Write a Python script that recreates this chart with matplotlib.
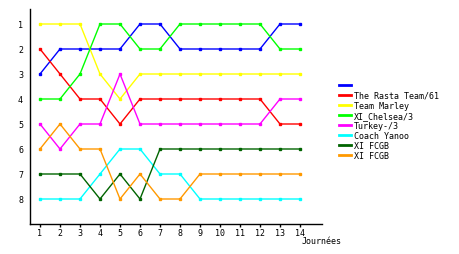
import matplotlib
matplotlib.use("Agg")
import matplotlib.pyplot as plt
from matplotlib.lines import Line2D

journees = list(range(1, 15))

teams = ["", "The Rasta Team/61", "Team Marley", "XI_Chelsea/3", "Turkey-/3",
         "Coach Yanoo", "XI FCGB", "XI FCGB"]
colors = ["#0000ff", "#ff0000", "#ffff00", "#00ff00", "#ff00ff",
          "#00ffff", "#006400", "#ff9900"]

blue = [3, 2, 2, 2, 2, 1, 1, 2, 2, 2, 2, 2, 1, 1]
red = [2, 3, 4, 4, 5, 4, 4, 4, 4, 4, 4, 4, 5, 5]
yellow = [1, 1, 1, 3, 4, 3, 3, 3, 3, 3, 3, 3, 3, 3]
green = [4, 4, 3, 1, 1, 2, 2, 1, 1, 1, 1, 1, 2, 2]
magenta = [5, 6, 5, 5, 3, 5, 5, 5, 5, 5, 5, 5, 4, 4]
cyan = [8, 8, 8, 7, 6, 6, 7, 7, 8, 8, 8, 8, 8, 8]
darkgreen = [7, 7, 7, 8, 7, 8, 6, 6, 6, 6, 6, 6, 6, 6]
orange = [6, 5, 6, 6, 8, 7, 8, 8, 7, 7, 7, 7, 7, 7]
series = [blue, red, yellow, green, magenta, cyan, darkgreen, orange]

plt.rcParams['font.family'] = 'DejaVu Sans Mono'
fig = plt.figure(figsize=(4.6, 2.55), dpi=100)
ax = fig.add_axes([30/460, 1 - 225/255, 292/460, 215/255])

for s, c in zip(series, colors):
    ax.plot(journees, s, color=c, lw=1.0, marker='s', ms=1.8, mec=c, mfc=c)

ax.set_xlim(0.5, 15.1)
ax.set_ylim(9, 0.4)
ax.set_xticks(journees)
ax.set_yticks(range(1, 9))
ax.tick_params(axis='x', labelsize=6, length=2, width=1, pad=1)
ax.tick_params(axis='y', labelsize=6, length=0, pad=5)
for sp in ['top', 'right']:
    ax.spines[sp].set_visible(False)
ax.spines['left'].set_linewidth(1)
ax.spines['bottom'].set_linewidth(1)
fig.text(322/460, 1 - 242/255, "Journées", fontsize=6, ha='center', va='center')

handles = [Line2D([], [], color=c, lw=2) for c in colors]
fig.legend(handles, teams, loc='upper left', bbox_to_anchor=(339/460, 1 - 82/255),
           frameon=False, fontsize=6, handlelength=1.4, handletextpad=0.4,
           labelspacing=0.12, borderpad=0, borderaxespad=0)

plt.savefig("out.png", dpi=100)
